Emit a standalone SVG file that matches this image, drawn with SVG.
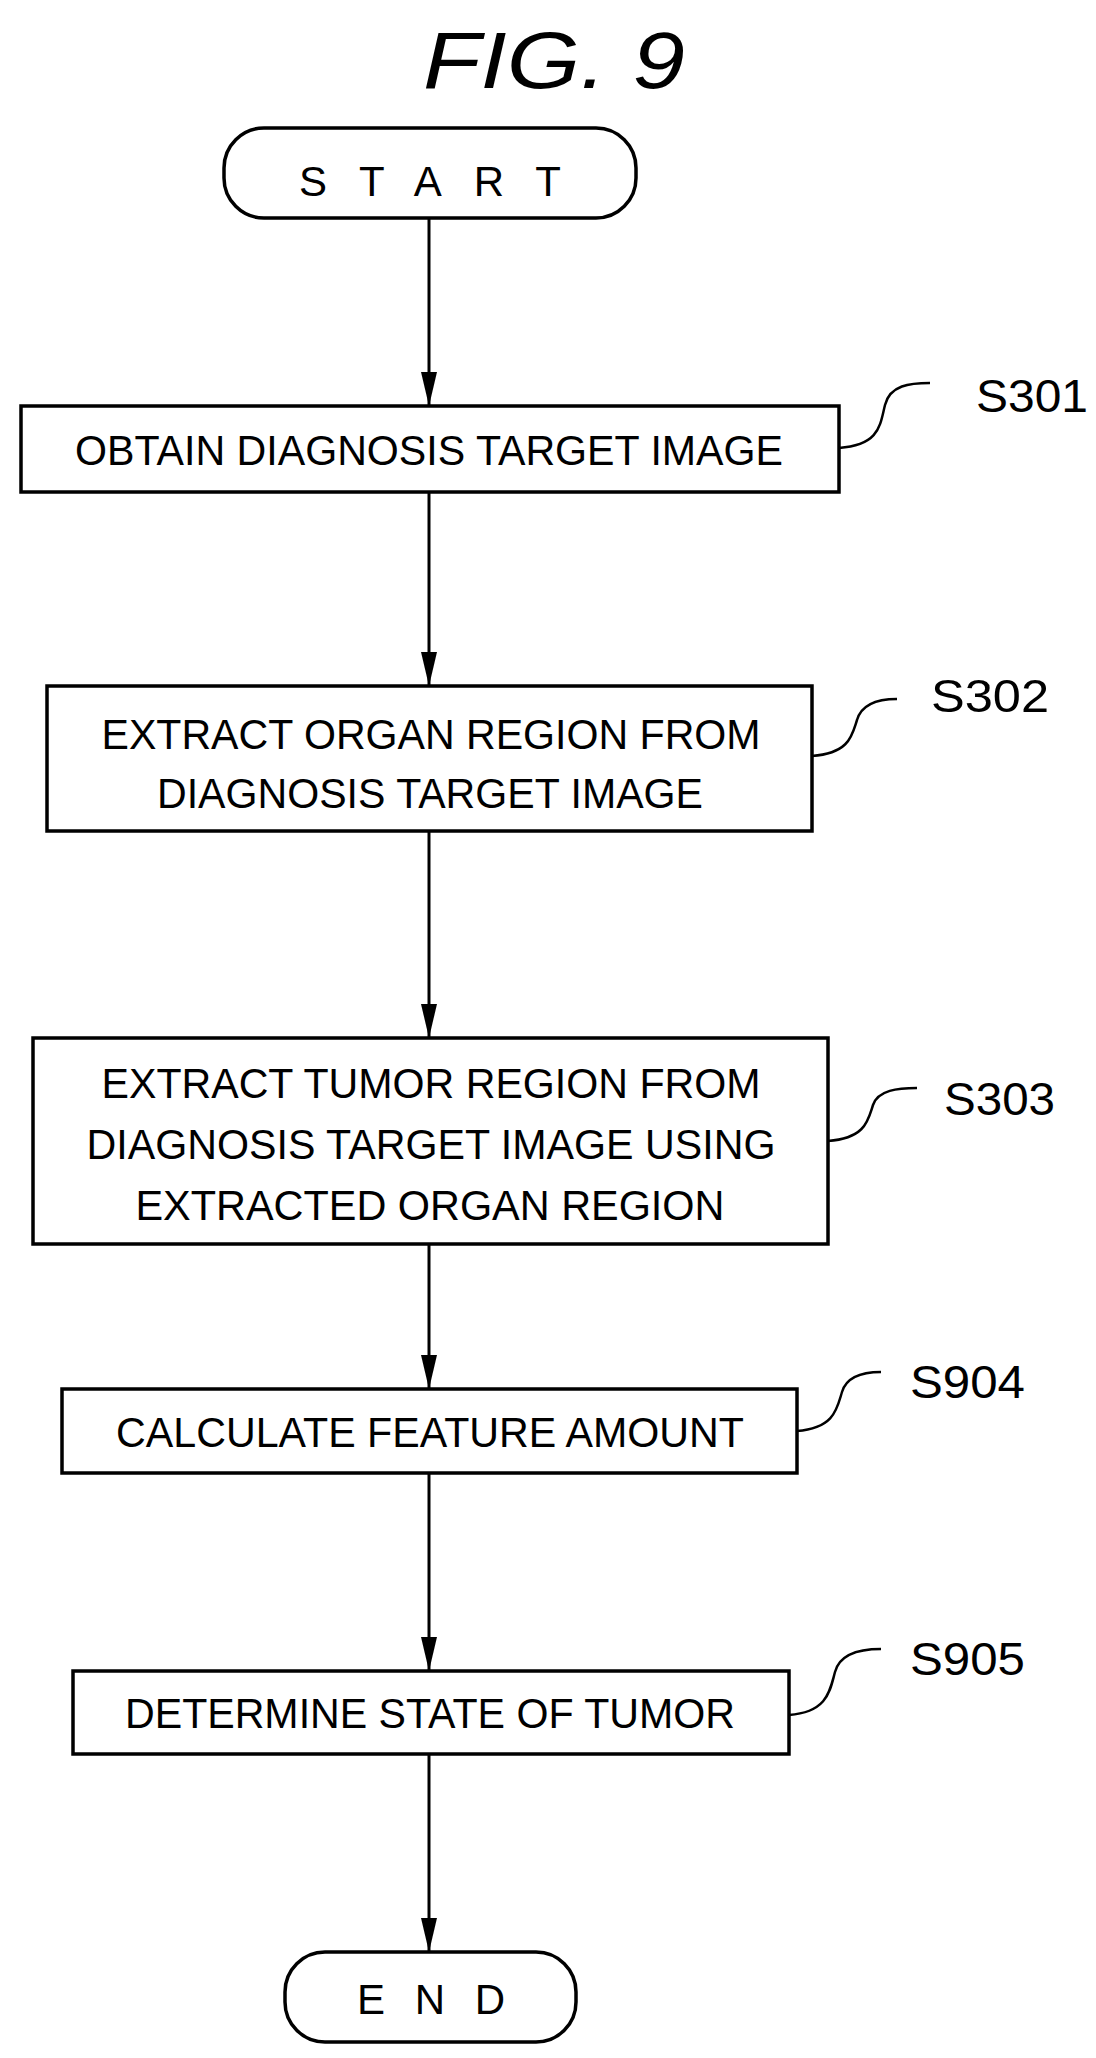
<svg xmlns="http://www.w3.org/2000/svg" width="1096" height="2058" viewBox="0 0 1096 2058">
<style>
.b{fill:#fff;stroke:#000;stroke-width:3.5}
.t{font-family:"Liberation Sans",Arial,sans-serif;font-size:42px;fill:#000;text-anchor:middle}
.l{font-family:"Liberation Sans",Arial,sans-serif;font-size:46px;fill:#000}
.c{fill:none;stroke:#000;stroke-width:3}
.s{fill:none;stroke:#000;stroke-width:2.5}
</style>
<defs>
<marker id="v" markerWidth="34" markerHeight="16" refX="34" refY="8" orient="auto" markerUnits="userSpaceOnUse" viewBox="0 0 34 16"><path d="M0,0 L34,8 L0,16 Z" fill="#000"/></marker></defs>
<text x="554" y="88" font-family="Liberation Sans,Arial,sans-serif" font-size="80" font-style="italic" text-anchor="middle" textLength="262" lengthAdjust="spacingAndGlyphs">FIG. 9</text>
<g id="connectors">
<line class="c" x1="429" y1="218" x2="429" y2="406" marker-end="url(#v)"/>
<line class="c" x1="429" y1="492" x2="429" y2="686" marker-end="url(#v)"/>
<line class="c" x1="429" y1="831" x2="429" y2="1038" marker-end="url(#v)"/>
<line class="c" x1="429" y1="1244" x2="429" y2="1389" marker-end="url(#v)"/>
<line class="c" x1="429" y1="1473" x2="429" y2="1671" marker-end="url(#v)"/>
<line class="c" x1="429" y1="1754" x2="429" y2="1952" marker-end="url(#v)"/>
</g>
<g id="start"><rect class="b" x="224" y="128" width="412" height="90" rx="40"/><text class="t" x="430" y="196" font-size="48" textLength="262" lengthAdjust="spacing">START</text></g>
<g id="s301"><rect class="b" x="21" y="406" width="818" height="86"/><text class="t" x="429" y="465" textLength="708" lengthAdjust="spacingAndGlyphs">OBTAIN DIAGNOSIS TARGET IMAGE</text>
<path class="s" d="M839,448 C880,445 880,425 885,405 C890,385 910,383 930,383"/><text class="l" x="976" y="412" textLength="112" lengthAdjust="spacingAndGlyphs">S301</text></g>
<g id="s302"><rect class="b" x="47" y="686" width="765" height="145"/><text class="t" x="431" y="749" textLength="659" lengthAdjust="spacingAndGlyphs">EXTRACT ORGAN REGION FROM</text><text class="t" x="430" y="808" textLength="546" lengthAdjust="spacingAndGlyphs">DIAGNOSIS TARGET IMAGE</text>
<path class="s" d="M812,756 C850,753 852,735 857,720 C862,703 880,699 897,699"/><text class="l" x="931" y="712" textLength="118" lengthAdjust="spacingAndGlyphs">S302</text></g>
<g id="s303"><rect class="b" x="33" y="1038" width="795" height="206"/><text class="t" x="431" y="1098" textLength="659" lengthAdjust="spacingAndGlyphs">EXTRACT TUMOR REGION FROM</text><text class="t" x="431" y="1159" textLength="689" lengthAdjust="spacingAndGlyphs">DIAGNOSIS TARGET IMAGE USING</text><text class="t" x="430" y="1220" textLength="589" lengthAdjust="spacingAndGlyphs">EXTRACTED ORGAN REGION</text>
<path class="s" d="M828,1141 C866,1138 868,1120 873,1105 C878,1090 898,1088 917,1088"/><text class="l" x="944" y="1115" textLength="111" lengthAdjust="spacingAndGlyphs">S303</text></g>
<g id="s904"><rect class="b" x="62" y="1389" width="735" height="84"/><text class="t" x="430" y="1447" textLength="628" lengthAdjust="spacingAndGlyphs">CALCULATE FEATURE AMOUNT</text>
<path class="s" d="M797,1431 C835,1428 837,1408 842,1392 C847,1375 865,1372 881,1372"/><text class="l" x="910" y="1398" textLength="115" lengthAdjust="spacingAndGlyphs">S904</text></g>
<g id="s905"><rect class="b" x="73" y="1671" width="716" height="83"/><text class="t" x="430" y="1728" textLength="610" lengthAdjust="spacingAndGlyphs">DETERMINE STATE OF TUMOR</text>
<path class="s" d="M789,1715 C828,1712 830,1690 835,1672 C840,1653 862,1649 881,1649"/><text class="l" x="910" y="1675" textLength="115" lengthAdjust="spacingAndGlyphs">S905</text></g>
<g id="end"><rect class="b" x="285" y="1952" width="291" height="90" rx="40"/><text class="t" x="431" y="2014" font-size="48" textLength="148" lengthAdjust="spacing">END</text></g>
</svg>
